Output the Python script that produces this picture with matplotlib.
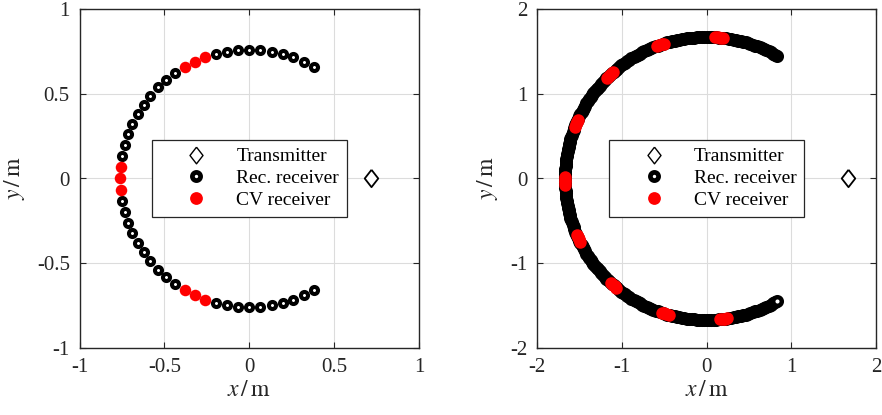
import numpy as np
import matplotlib
matplotlib.use("Agg")
import matplotlib.pyplot as plt
from matplotlib.lines import Line2D

plt.rcParams["font.family"] = ["Liberation Serif", "DejaVu Serif"]
plt.rcParams["mathtext.fontset"] = "stix"
plt.rcParams["axes.unicode_minus"] = False

# ---- left panel: 49 receivers, 5 degree spacing ----
left_radius = 0.76
left_rec_deg = [60, 65, 70, 75, 80, 85, 90, 95, 100, 105,
                125, 130, 135, 140, 145, 150, 155, 160, 165, 170,
                190, 195, 200, 205, 210, 215, 220, 225, 230, 235,
                255, 260, 265, 270, 275, 280, 285, 290, 295, 300]
left_cv_deg = [110, 115, 120, 175, 180, 185, 240, 245, 250]
left_tx = (0.72, 0.0)
left_ticks = [-1, -0.5, 0, 0.5, 1]
left_ticklabels = ["-1", "-0.5", "0", "0.5", "1"]

# ---- right panel: dense arc of receivers ----
right_radius = 1.67
right_arc_start, right_arc_stop, right_arc_step = 60.0, 300.0, 1.0
right_cv_centres = [85, 109, 133, 157, 181, 205, 229, 253, 277]
right_cv_offsets = [-1.5, -0.5, 0.5, 1.5]
right_tx = (1.67, 0.0)
right_ticks = [-2, -1, 0, 1, 2]
right_ticklabels = ["-2", "-1", "0", "1", "2"]

legend_labels = ["Transmitter", "Rec. receiver", "CV receiver"]

diamond = [(0, 1), (0.78, 0), (0, -1), (-0.78, 0), (0, 1)]
edge_col = "#262626"


def polar(r, deg):
    a = np.deg2rad(np.asarray(deg, dtype=float))
    return r * np.cos(a), r * np.sin(a)


def style_axes(ax, lim, ticks, ticklabels):
    ax.set_xlim(-lim, lim)
    ax.set_ylim(-lim, lim)
    ax.set_xticks(ticks)
    ax.set_yticks(ticks)
    ax.set_xticklabels(ticklabels)
    ax.set_yticklabels(ticklabels)
    ax.grid(True, color="#dcdcdc", linewidth=0.8)
    ax.set_axisbelow(True)
    ax.tick_params(direction="in", top=True, right=True, length=4,
                   width=0.8, colors=edge_col, labelsize=15, pad=7)
    for s in ax.spines.values():
        s.set_color(edge_col)
        s.set_linewidth(1.0)
    ax.set_xlabel(r"$x\,/\,\mathrm{m}$", fontsize=17, color=edge_col,
                  labelpad=2)
    ax.set_ylabel(r"$y\,/\,\mathrm{m}$", fontsize=17, color=edge_col,
                  labelpad=7)


def add_legend(ax):
    handles = [
        Line2D([], [], ls="none", marker=diamond, ms=12, mfc="white",
               mec="black", mew=1.0),
        Line2D([], [], ls="none", marker="o", ms=5.9, mfc="white",
               mec="black", mew=3.4),
        Line2D([], [], ls="none", marker="o", ms=9.2, mfc="red",
               mec="red", mew=0),
    ]
    leg = ax.legend(handles, legend_labels, loc="center",
                    bbox_to_anchor=(0.5, 0.5), fontsize=14, frameon=True,
                    fancybox=False, edgecolor=edge_col, framealpha=1,
                    handlelength=3.8, handletextpad=0.15, borderpad=0.4,
                    labelspacing=0.22, borderaxespad=0)
    leg.get_frame().set_linewidth(0.9)
    return leg


fig = plt.figure(figsize=(8.82, 4.15), dpi=100)
ax1 = fig.add_axes([79.5 / 882, 67 / 415, 339.5 / 882, 339 / 415])
ax2 = fig.add_axes([537 / 882, 67 / 415, 339 / 882, 339 / 415])

# left panel
rx, ry = polar(left_radius, left_rec_deg)
cx, cy = polar(left_radius, left_cv_deg)
ax1.plot(rx, ry, ls="none", marker="o", ms=5.1, mfc="white", mec="black",
         mew=2.9, zorder=3)
ax1.plot(cx, cy, ls="none", marker="o", ms=8.3, mfc="red", mec="red",
         mew=0, zorder=4)
ax1.plot(*left_tx, ls="none", marker=diamond, ms=12.5, mfc="white",
         mec="black", mew=1.3, zorder=4)
style_axes(ax1, 1, left_ticks, left_ticklabels)
add_legend(ax1)

# right panel
arc_deg = np.arange(right_arc_start, right_arc_stop + right_arc_step / 2,
                    right_arc_step)
cv_deg = [c + o for c in right_cv_centres for o in right_cv_offsets]
rx, ry = polar(right_radius, arc_deg)
cx, cy = polar(right_radius, cv_deg)
ax2.plot(rx, ry, ls="none", marker="o", ms=6.2, mfc="white", mec="black",
         mew=3.2, zorder=3)
ax2.plot(cx, cy, ls="none", marker="o", ms=9.0, mfc="red", mec="red",
         mew=0, zorder=4)
ax2.plot(*right_tx, ls="none", marker=diamond, ms=12.5, mfc="white",
         mec="black", mew=1.3, zorder=4)
style_axes(ax2, 2, right_ticks, right_ticklabels)
add_legend(ax2)

fig.savefig("out.png", dpi=100)
